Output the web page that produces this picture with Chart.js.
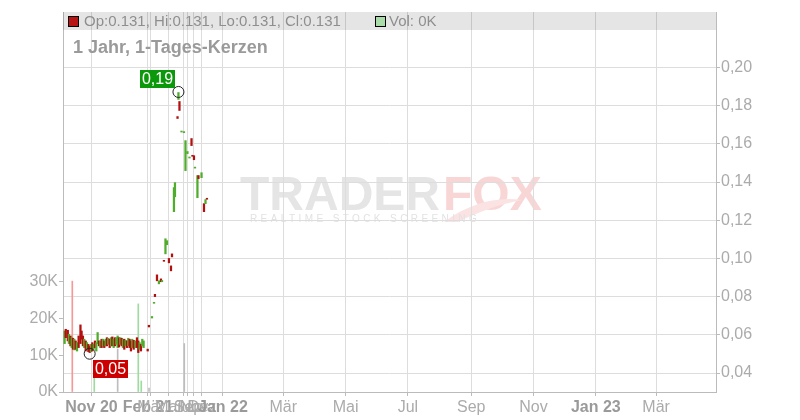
<!DOCTYPE html>
<html>
<head>
<meta charset="utf-8">
<script src="https://cdn.jsdelivr.net/npm/chart.js@4/dist/chart.umd.min.js"></script>
<style>
    html, body { margin: 0; padding: 0; background: #fff; }
</style>
</head>
<body>
<canvas id="kursChart" width="800" height="420"></canvas>
<script>
// x = Tage relativ zum 1. Jan 2022 (Zeitraum vor 2022 ist gestaucht)
const candleX = [
    -155.0, -153.9, -151.9, -150.8, -149.3, -148.1, -146.8, -145.5, -144.2, -142.9,
    -141.3, -139.5, -138.4, -137.1, -135.8, -134.4, -133.1, -131.8, -130.5, -129.2,
    -127.9, -126.6, -125.3, -124.0, -122.7, -121.4, -120.1, -118.8, -117.5, -116.2,
    -114.9, -113.6, -112.3, -110.9, -109.6, -108.3, -107.0, -105.7, -104.4, -103.1,
    -101.8, -100.5, -99.2, -97.9, -96.6, -95.3, -94.0, -92.7, -91.4, -90.1,
    -88.8, -87.4, -85.5, -84.2, -82.9, -81.6, -80.3, -79.0, -77.7, -73.7,
    -72.5, -69.5, -67.5, -66.6, -64.6, -62.7, -60.7, -59.7, -57.8, -56.3,
    -54.8, -52.9, -50.9, -49.9, -48.0, -47.0, -44.5, -43.6, -42.6, -40.6,
    -38.2, -36.7, -34.8, -32.8, -30.8, -29.9, -28.4, -27.4, -25.0, -24.0,
    -21.0, -18.6, -17.1, -15.7
];
const candleOpen = [
    0.0554, 0.0629, 0.0624, 0.0554, 0.0594, 0.0533, 0.0582, 0.0521, 0.0568, 0.0515,
    0.0594, 0.0652, 0.0620, 0.0594, 0.0533, 0.0568, 0.0524, 0.0550, 0.0542, 0.0512,
    0.0559, 0.0524, 0.0568, 0.0515, 0.0554, 0.0568, 0.0533, 0.0577, 0.0542, 0.0568,
    0.0542, 0.0585, 0.0550, 0.0577, 0.0542, 0.0589, 0.0533, 0.0585, 0.0550, 0.0533,
    0.0585, 0.0550, 0.0582, 0.0533, 0.0577, 0.0542, 0.0568, 0.0542, 0.0577, 0.0568,
    0.0533, 0.0571, 0.0533, 0.0585, 0.0568, 0.0524, 0.0550, 0.0542, 0.0533, 0.0525,
    0.0650, 0.0688, 0.0765, 0.0812, 0.0914, 0.0867, 0.0893, 0.0878, 0.0990, 0.1024,
    0.1072, 0.1000, 0.0961, 0.1024, 0.1245, 0.1323, 0.1743, 0.1833, 0.1822, 0.1662,
    0.1659, 0.1460, 0.1549, 0.1526, 0.1628, 0.1540, 0.1538, 0.1473, 0.1318, 0.1434,
    0.1423, 0.1287, 0.1287, 0.1315
];
const candleClose = [
    0.0620, 0.0585, 0.0568, 0.0603, 0.0542, 0.0585, 0.0524, 0.0577, 0.0524, 0.0559,
    0.0533, 0.0554, 0.0577, 0.0542, 0.0577, 0.0515, 0.0559, 0.0512, 0.0507, 0.0550,
    0.0515, 0.0550, 0.0533, 0.0559, 0.0612, 0.0542, 0.0568, 0.0533, 0.0577, 0.0533,
    0.0577, 0.0542, 0.0582, 0.0533, 0.0585, 0.0542, 0.0577, 0.0542, 0.0585, 0.0594,
    0.0536, 0.0585, 0.0542, 0.0577, 0.0524, 0.0571, 0.0533, 0.0582, 0.0533, 0.0515,
    0.0577, 0.0524, 0.0568, 0.0533, 0.0507, 0.0559, 0.0515, 0.0577, 0.0568, 0.0515,
    0.0641, 0.0696, 0.0770, 0.0800, 0.0883, 0.0883, 0.0878, 0.0885, 0.0985, 0.1103,
    0.1093, 0.0977, 0.0935, 0.1008, 0.1371, 0.1397, 0.1733, 0.1869, 0.1775, 0.1666,
    0.1663, 0.1617, 0.1560, 0.1530, 0.1591, 0.1535, 0.1517, 0.1478, 0.1434, 0.1418,
    0.1449, 0.1245, 0.1308, 0.1310
];

// Volumen
const volX = [-147.5, -126.0, -103.1, -82.9, -80.0, -72.4, -37.9];
const volValues = [30200, 4100, 11700, 24000, 3000, 1100, 13200];
const volKind = ['ab', 'auf', 'neutral', 'auf', 'auf', 'neutral', 'neutral'];

// Achsen
const tickPos = [-128.7, -73.4, -70.5, -53.8, -38.2, -34.3, -28.4, -20.6, 0, 59, 120, 181, 243, 304, 365, 424];
const tickLabels = ['Nov 20', 'Feb 21', 'Mär', 'Mai', 'Jul', 'Sep', 'Nov', 'Dez', 'Jan 22',
                    'Mär', 'Mai', 'Jul', 'Sep', 'Nov', 'Jan 23', 'Mär'];
const priceTicks = [0.04, 0.06, 0.08, 0.10, 0.12, 0.14, 0.16, 0.18, 0.20];
const volTicks = [0, 10000, 20000, 30000];

// Hoch / Tief Markierungen
const markX = [-43.6, -130.5];
const markY = [0.1872, 0.0501];
const markText = ['0,19', '0,05'];

const GREEN = '#4fac2c';
const RED = '#b40f0f';
const FONT = '"Liberation Sans", Arial, sans-serif';

Chart.defaults.font.family = FONT;

const bodyColors = candleOpen.map((o, i) => candleClose[i] >= o ? GREEN : RED);
const volColors = volKind.map(k => k === 'ab' ? '#f29a9a' : (k === 'auf' ? '#9edb9e' : '#bdbdbd'));

// Wasserzeichen
const watermarkPlugin = {
    id: 'wasserzeichen',
    beforeDraw(chart) {
        const ctx = chart.ctx;
        ctx.save();
        ctx.font = 'bold 48px ' + FONT;
        ctx.textBaseline = 'alphabetic';
        ctx.fillStyle = '#e5e5e5';
        ctx.fillText('TRADER', 240, 210);
        ctx.fillStyle = '#f9d6d6';
        ctx.fillText('FOX', 443, 210);
        // Fuchsschwanz
        ctx.fillStyle = '#fbe3e3';
        ctx.beginPath();
        ctx.moveTo(444, 222);
        ctx.bezierCurveTo(468, 204, 496, 196, 522, 200);
        ctx.bezierCurveTo(500, 204, 478, 212, 458, 222);
        ctx.closePath();
        ctx.fill();
        ctx.font = '10px ' + FONT;
        ctx.letterSpacing = '3.4px';
        ctx.fillStyle = '#e2e2e2';
        ctx.fillText('REALTIME STOCK SCREENING', 250, 222);
        ctx.restore();
    }
};

// Kopfzeile mit OHLC-Legende und Titel
const headerPlugin = {
    id: 'kopfzeile',
    beforeDatasetsDraw(chart) {
        const { ctx, chartArea: a } = chart;
        ctx.save();
        ctx.fillStyle = 'rgba(0, 0, 0, 0.1)';
        ctx.fillRect(a.left, a.top, a.right - a.left, 18);

        ctx.lineWidth = 1;
        ctx.strokeStyle = '#000';
        ctx.fillStyle = '#b81414';
        ctx.fillRect(68.5, 16.5, 10, 10);
        ctx.strokeRect(68.5, 16.5, 10, 10);
        ctx.fillStyle = '#aadcaa';
        ctx.fillRect(375.5, 16.5, 10, 10);
        ctx.strokeRect(375.5, 16.5, 10, 10);

        ctx.font = '15px ' + FONT;
        ctx.textBaseline = 'middle';
        ctx.fillStyle = '#8e8e8e';
        ctx.fillText('Op:0.131, Hi:0.131, Lo:0.131, Cl:0.131', 84, 22);
        ctx.fillText('Vol: 0K', 389, 22);

        ctx.font = 'bold 18px ' + FONT;
        ctx.fillStyle = '#9a9a9a';
        ctx.fillText('1 Jahr, 1-Tages-Kerzen', 73, 48);
        ctx.restore();
    }
};

// Beschriftung von Hoch und Tief
const markLabelPlugin = {
    id: 'hochTief',
    afterDatasetsDraw(chart) {
        const ctx = chart.ctx;
        const xs = chart.scales.x;
        const ys = chart.scales.y;
        ctx.save();
        ctx.font = '16px ' + FONT;
        ctx.textBaseline = 'middle';
        ctx.textAlign = 'center';
        markX.forEach((mx, i) => {
            const px = xs.getPixelForValue(mx);
            const py = ys.getPixelForValue(markY[i]);
            const w = ctx.measureText(markText[i]).width + 4;
            const h = 18;
            let bx, by;
            if (i === 0) {
                bx = px - 3 - w;
                by = py - 4 - h;
                ctx.fillStyle = '#0b990b';
            } else {
                bx = px + 3;
                by = py + 6;
                ctx.fillStyle = '#cc0000';
            }
            ctx.fillRect(Math.round(bx), Math.round(by), Math.round(w), h);
            ctx.fillStyle = '#fff';
            ctx.fillText(markText[i], Math.round(bx) + Math.round(w) / 2, Math.round(by) + h / 2 + 1);
        });
        ctx.restore();
    }
};

const ctx = document.getElementById('kursChart');

new Chart(ctx, {
    type: 'bar',
    data: {
        datasets: [
            {
                type: 'line',
                label: 'Hoch/Tief',
                data: markX.map((x, i) => ({ x: x, y: markY[i] })),
                yAxisID: 'y',
                showLine: false,
                pointRadius: 5.5,
                pointBorderWidth: 1,
                pointBorderColor: '#222',
                pointBackgroundColor: 'rgba(0,0,0,0)',
                order: 1
            },
            {
                label: 'Kerzen',
                data: candleX.map((x, i) => ({ x: x, y: [candleOpen[i], candleClose[i]] })),
                yAxisID: 'y',
                backgroundColor: bodyColors,
                barThickness: 1.6,
                minBarLength: 1,
                borderSkipped: false,
                grouped: false,
                order: 2
            },
            {
                label: 'Volumen',
                data: volX.map((x, i) => ({ x: x, y: volValues[i] })),
                yAxisID: 'vol',
                backgroundColor: volColors,
                barThickness: 1,
                grouped: false,
                order: 3
            }
        ]
    },
    options: {
        responsive: false,
        animation: false,
        devicePixelRatio: 1,
        layout: { padding: { top: 12, left: 0, right: 0, bottom: 0 } },
        plugins: {
            legend: { display: false },
            tooltip: { enabled: false }
        },
        scales: {
            x: {
                type: 'linear',
                min: -156.6,
                max: 482.6,
                offset: false,
                grid: { color: '#dddddd', offset: false, tickLength: 4, tickColor: '#bbbbbb' },
                border: { color: '#bbbbbb' },
                ticks: {
                    autoSkip: false,
                    maxRotation: 0,
                    padding: 2,
                    font: c => ({ size: 16, weight: /\d/.test(tickLabels[c.index] || '') ? 'bold' : 'normal' }),
                    color: c => /\d/.test(tickLabels[c.index] || '') ? '#9a9a9a' : '#ababab',
                    callback: (v, i) => tickLabels[i]
                },
                afterBuildTicks: s => { s.ticks = tickPos.map(v => ({ value: v })); },
                afterFit: s => { s.height = 28; }
            },
            y: {
                position: 'right',
                min: 0.03005,
                max: 0.22907,
                grid: { color: '#dddddd', tickLength: 4, tickColor: '#bbbbbb' },
                border: { color: '#bbbbbb' },
                ticks: {
                    padding: 1,
                    font: { size: 16 },
                    color: '#ababab',
                    callback: v => v.toFixed(2).replace('.', ',')
                },
                afterBuildTicks: s => { s.ticks = priceTicks.map(v => ({ value: v })); },
                afterFit: s => { s.width = 84; }
            },
            vol: {
                position: 'left',
                min: 0,
                max: 103500,
                grid: { drawOnChartArea: false, tickLength: 4, color: '#bbbbbb' },
                border: { color: '#bbbbbb' },
                ticks: {
                    padding: 1,
                    font: { size: 16 },
                    color: '#ababab',
                    callback: v => (v / 1000) + 'K'
                },
                afterBuildTicks: s => { s.ticks = volTicks.map(v => ({ value: v })); },
                afterFit: s => { s.width = 63; }
            }
        }
    },
    plugins: [watermarkPlugin, headerPlugin, markLabelPlugin]
});
</script>
</body>
</html>
